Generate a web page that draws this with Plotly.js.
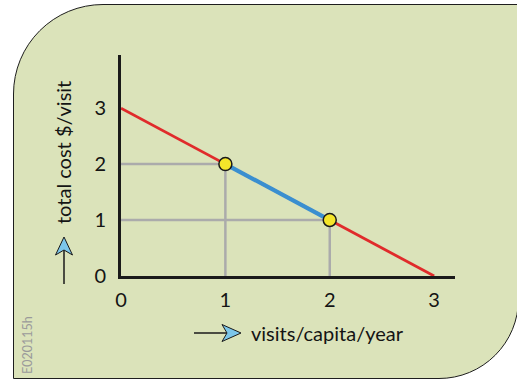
<!DOCTYPE html>
<html><head><meta charset="utf-8">
<script src="https://cdn.plot.ly/plotly-3.0.1.min.js"></script>
<style>
html,body{margin:0;padding:0;background:#fff;overflow:hidden;}
#wrap{position:relative;width:517px;height:382px;overflow:hidden;}
#bg{position:absolute;left:13px;top:4px;width:506px;height:375px;background:#dbe3ba;border:1.5px solid #1e1e1e;border-radius:90px 0 80px 0;box-sizing:border-box;}
#chart{position:absolute;left:0;top:0;width:517px;height:382px;}
#deco{position:absolute;left:0;top:0;pointer-events:none;}
</style></head>
<body><div id="wrap"><div id="bg"></div><div id="chart"></div>
<svg id="deco" width="517" height="382">
  <line x1="64" y1="284" x2="64" y2="248" stroke="#1a1a1a" stroke-width="1.5"/>
  <polygon points="64,237 72.5,255 64,250 55.5,255" fill="#7cc6ea" stroke="#1a1a1a" stroke-width="1"/>
  <line x1="194" y1="333" x2="230" y2="333" stroke="#1a1a1a" stroke-width="1.5"/>
  <polygon points="241,333 222,324.5 227,333 222,341.5" fill="#7cc6ea" stroke="#1a1a1a" stroke-width="1"/>
</svg></div>
<script>
const visits = [0, 1, 2, 3];
const cost = [3, 2, 1, 0];
const pointX = [1, 2];
const pointY = [2, 1];
const xTicks = [0, 1, 2, 3];
const yTicks = [0, 1, 2, 3];
const xTitle = "visits/capita/year";
const yTitle = "total cost $/visit";
const code = "E020115h";

const FONT = "Lato, 'Open Sans', sans-serif";
const traces = [];
// guide lines from each point to both axes
pointX.forEach((px, i) => {
  traces.push({x: [0, px, px], y: [pointY[i], pointY[i], 0], mode: 'lines',
    line: {color: '#ababab', width: 2.5}, hoverinfo: 'skip', showlegend: false});
});
traces.push({x: visits, y: cost, mode: 'lines', line: {color: '#e02b2b', width: 2.8}, showlegend: false});
traces.push({x: pointX, y: pointY, mode: 'lines', line: {color: '#3a8fd0', width: 4.2}, showlegend: false});
traces.push({x: pointX, y: pointY, mode: 'markers',
  marker: {color: '#f4e52a', size: 13, line: {color: '#1a1a1a', width: 1.5}}, showlegend: false});

const layout = {
  width: 517, height: 382,
  margin: {l: 121, r: 62, t: 55, b: 106},
  paper_bgcolor: 'rgba(0,0,0,0)', plot_bgcolor: 'rgba(0,0,0,0)',
  font: {family: FONT, size: 20, color: '#141414'},
  xaxis: {range: [0, 3.2], tickvals: xTicks, ticktext: xTicks.map(String), showgrid: false, zeroline: false,
    showline: true, linecolor: '#1a1a1a', linewidth: 3, ticks: '', ticklabelstandoff: 4, fixedrange: true},
  yaxis: {range: [0, 3.95], tickvals: yTicks, ticktext: yTicks.map(String), showgrid: false, zeroline: false,
    showline: true, linecolor: '#1a1a1a', linewidth: 3, ticks: '', ticklabelstandoff: 8, fixedrange: true},
  annotations: [
    {text: xTitle, xref: 'paper', yref: 'paper', x: (327 - 121) / 334, y: -(333 - 276) / 221,
      xanchor: 'center', yanchor: 'middle', showarrow: false, font: {size: 20, family: FONT, color: '#141414'}},
    {text: yTitle, xref: 'paper', yref: 'paper', x: -(121 - 63) / 334, y: (276 - 153) / 221, textangle: -90,
      xanchor: 'center', yanchor: 'middle', showarrow: false, font: {size: 20, family: FONT, color: '#141414'}},
    {text: code, xref: 'paper', yref: 'paper', x: -(121 - 27) / 334, y: -(345 - 276) / 221, textangle: -90,
      xanchor: 'center', yanchor: 'middle', showarrow: false, font: {size: 12.5, family: FONT, color: '#9a9a9a'}}
  ]
};
Plotly.newPlot('chart', traces, layout, {staticPlot: true});
</script></body></html>
